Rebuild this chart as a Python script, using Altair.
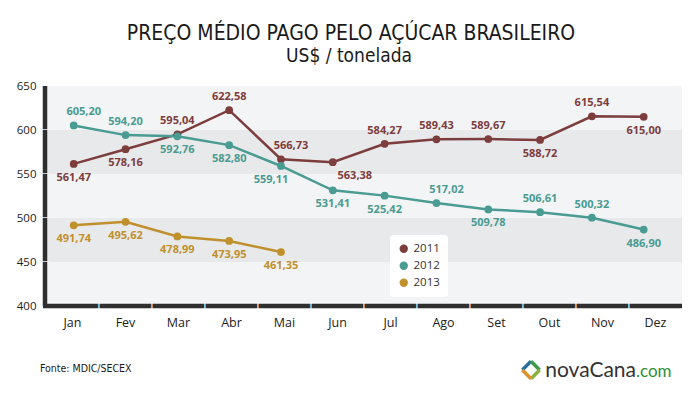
import pandas as pd
import altair as alt

months = ["Jan", "Fev", "Mar", "Abr", "Mai", "Jun", "Jul", "Ago", "Set", "Out", "Nov", "Dez"]
years = ["2011", "2012", "2013"]
colors = ["#7d3d3d", "#4a9b91", "#c0902c"]

p2011 = [561.47, 578.16, 595.04, 622.58, 566.73, 563.38, 584.27, 589.43, 589.67, 588.72, 615.54, 615.00]
p2012 = [605.20, 594.20, 592.76, 582.80, 559.11, 531.41, 525.42, 517.02, 509.78, 506.61, 500.32, 486.90]
p2013 = [491.74, 495.62, 478.99, 473.95, 461.35]

# where each value label sits around its point
where2011 = ["s", "s", "n", "n", "ne", "se", "n", "n", "n", "s", "n", "s"]
where2012 = ["ne", "n", "s", "s", "sw", "s", "s", "ne", "s", "n", "n", "s"]
where2013 = ["s", "s", "s", "s", "s"]

y_ticks = [400, 450, 500, 550, 600, 650]
band_lo = [400, 450, 500, 550, 600]
band_hi = [450, 500, 550, 600, 650]
band_shade = ["light", "dark", "light", "dark", "light"]

title = "PREÇO MÉDIO PAGO PELO AÇÚCAR BRASILEIRO"
subtitle = "US$ / tonelada"
source = "Fonte: MDIC/SECEX"

W, H = 636, 220
narrow = "Liberation Sans Narrow, DejaVu Sans Condensed, sans-serif"

rows = []
for year, vals, where in zip(years, [p2011, p2012, p2013], [where2011, where2012, where2013]):
    for m, v, w in zip(months, vals, where):
        rows.append({"year": year, "month": m, "price": v,
                     "label": f"{v:.2f}".replace(".", ","), "where": w})
df = pd.DataFrame(rows)

offsets = {"n": (0, -13), "s": (0, 14), "ne": (10, -13), "se": (22, 14), "sw": (-10, 14)}

y_axis = alt.Axis(values=y_ticks, ticks=False, grid=False, domain=False,
                  labelPadding=10, labelFontSize=11.5, labelColor="#222222",
                  labelFont="Open Sans", title=None)
y_scale = alt.Scale(domain=[400, 650], nice=False, zero=False)


def y_enc(field):
    return alt.Y(f"{field}:Q", scale=y_scale, axis=y_axis, title=None)


x_pt = alt.X("month:N", scale=alt.Scale(type="point", domain=months, padding=0.637, align=0.42),
             axis=None, title=None)
color_scale = alt.Scale(domain=years, range=colors)
one_row = pd.DataFrame({"t": [title], "s": [subtitle], "f": [source]})

# alternating background bands
bands = alt.Chart(pd.DataFrame({"lo": band_lo, "hi": band_hi, "shade": band_shade})).mark_rect().encode(
    y=y_enc("lo"), y2="hi:Q", x=alt.value(0), x2=alt.value(W),
    fill=alt.Fill("shade:N", scale=alt.Scale(domain=["light", "dark"], range=["#f3f4f6", "#e8e9eb"]),
                  legend=None))

# x axis labels (invisible carrier layer on a band scale)
x_axis_layer = alt.Chart(pd.DataFrame({"month": months})).mark_point(opacity=0).encode(
    x=alt.X("month:N",
            scale=alt.Scale(type="band", domain=months, paddingInner=0, paddingOuter=0),
            axis=alt.Axis(ticks=False, domain=False, labelPadding=10, labelFontSize=12.5,
                          labelColor="#222222", labelAngle=0, labelFont="Open Sans", title=None),
            title=None),
    y=alt.value(H))

lines = alt.Chart(df).mark_line(strokeWidth=2.5).encode(
    x=x_pt, y=y_enc("price"), color=alt.Color("year:N", scale=color_scale, legend=None))

points = alt.Chart(df).mark_circle(size=60, opacity=1).encode(
    x=x_pt, y=y_enc("price"),
    color=alt.Color("year:N", scale=color_scale,
                    legend=alt.Legend(title=None, orient="none", legendX=344, legendY=149,
                                      fillColor="white", padding=8, cornerRadius=3,
                                      symbolType="circle", symbolSize=70, labelFontSize=11.5,
                                      labelColor="#333333", labelFont="Open Sans", rowPadding=4)))

labels = []
for code, (dx, dy) in offsets.items():
    labels.append(alt.Chart(df).mark_text(dx=dx, dy=dy, fontSize=11, fontWeight="bold", font="Open Sans").encode(
        x=x_pt, y=y_enc("price"), text="label:N",
        color=alt.Color("year:N", scale=color_scale, legend=None),
    ).transform_filter(alt.datum.where == code))

# dark axis bars drawn as thick lines on an identity x scale, on top of everything
bar_x = alt.Chart(pd.DataFrame({"px": [-3, W], "v": [y_ticks[0], y_ticks[0]]})).mark_line(
    color="#2f2f2f", strokeWidth=4.5, strokeCap="butt").encode(
    x=alt.X("px:Q", scale=None, axis=None, title=None), y=y_enc("v"))
bar_y = alt.Chart(pd.DataFrame({"px": [-1, -1], "v": [y_ticks[0], y_ticks[-1]]})).mark_line(
    color="#2f2f2f", strokeWidth=4.5, strokeCap="butt").encode(
    x=alt.X("px:Q", scale=None, axis=None, title=None), y=y_enc("v"), order="v:Q")

# white gaps: one between each pair of months on the bottom bar, one per tick on the left bar
gap_x = alt.Chart(pd.DataFrame({"month": months[1:]})).mark_text(
    text="|", fontSize=9, fontWeight="bold", color="white", font="DejaVu Sans").encode(
    x=alt.X("month:N", bandPosition=0,
            scale=alt.Scale(type="band", domain=months, paddingInner=0, paddingOuter=0),
            axis=None, title=None),
    y=alt.value(H))
gap_y = alt.Chart(pd.DataFrame({"tick": y_ticks[1:-1]})).mark_text(
    text="—", fontSize=8, color="white", font="DejaVu Sans").encode(
    y=y_enc("tick"), x=alt.value(-1))

title_txt = alt.Chart(one_row).mark_text(font=narrow, fontSize=21, color="#1a1a1a", baseline="alphabetic").encode(
    text="t:N", x=alt.value(305), y=alt.value(-46))
sub_txt = alt.Chart(one_row).mark_text(font=narrow, fontSize=19, color="#1a1a1a", baseline="alphabetic").encode(
    text="s:N", x=alt.value(303), y=alt.value(-24))
src_txt = alt.Chart(one_row).mark_text(font=narrow, fontSize=10.5, color="#1a1a1a",
                                       align="left", baseline="alphabetic").encode(
    text="f:N", x=alt.value(-6), y=alt.value(286))

logo_a = alt.Chart(pd.DataFrame({"t": ["novaCana"]})).mark_text(
    font="Lato", fontSize=21, color="#333333", align="right", baseline="alphabetic").encode(
    text="t:N", x=alt.value(590), y=alt.value(291))
logo_b = alt.Chart(pd.DataFrame({"t": [".com"]})).mark_text(
    font="Lato", fontSize=17, color="#2f8f3a", align="left", baseline="alphabetic").encode(
    text="t:N", x=alt.value(590), y=alt.value(291))
edges = [("M -1 0 L 0 -1", "#2a6fa0"), ("M 0 -1 L 1 0", "#3a9a4a"),
         ("M 1 0 L 0 1", "#8ab040"), ("M 0 1 L -1 0", "#e0902a")]
logo_icon = [alt.Chart(one_row).mark_point(shape=path, size=300, strokeWidth=3.5,
                                           color=c, opacity=1).encode(
    x=alt.value(485), y=alt.value(284)) for path, c in edges]

chart = alt.layer(
    bands, x_axis_layer, lines, points, *labels,
    title_txt, sub_txt, src_txt, logo_a, logo_b, *logo_icon,
    bar_x, bar_y, gap_x, gap_y
).resolve_scale(x="independent").resolve_legend(color="independent").properties(
    width=W, height=H,
    autosize=alt.AutoSizeParams(type="none"),
    padding={"left": 38, "top": 78, "right": 10, "bottom": 87},
    background="white",
).configure_view(stroke=None)

chart.save("out.html", embed_options={"renderer": "svg", "actions": False})
